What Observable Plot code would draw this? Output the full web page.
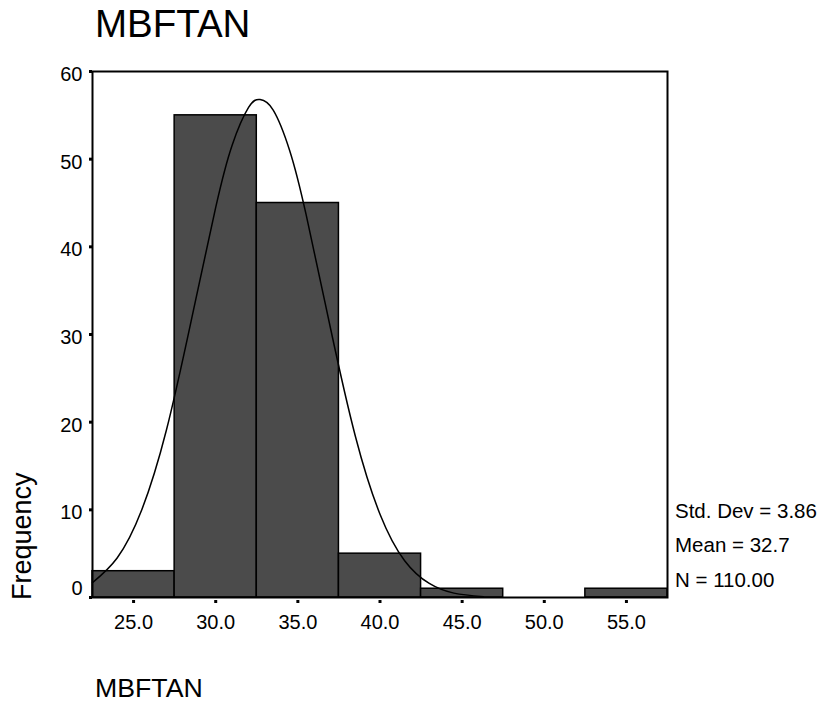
<!DOCTYPE html>
<html>
<head>
<meta charset="utf-8">
<script src="https://cdn.jsdelivr.net/npm/d3@7"></script>
<script src="https://cdn.jsdelivr.net/npm/@observablehq/plot@0.6"></script>
<style>
  html, body { margin: 0; padding: 0; background: #fff; }
  #wrap { position: relative; width: 821px; height: 703px; font-family: "Liberation Sans", Arial, sans-serif; color: #000; }
  #wrap svg { position: absolute; left: 0; top: 0; }
  .t { position: absolute; white-space: nowrap; line-height: 1; }
</style>
</head>
<body>
<div id="wrap">
  <div class="t" id="title" style="left:95px; top:5px; font-size:38.5px;">MBFTAN</div>
  <div class="t" id="xlab" style="left:95px; top:674.5px; font-size:26.7px;">MBFTAN</div>
  <div class="t" id="ylab" style="left:9px; top:600px; font-size:27px; transform-origin:0 0; transform:rotate(-90deg);">Frequency</div>
  <div class="t" id="s1" style="left:675px; top:501px; font-size:20.5px;"></div>
  <div class="t" id="s2" style="left:675px; top:535px; font-size:20.5px;"></div>
  <div class="t" id="s3" style="left:675px; top:570px; font-size:20.5px;"></div>
</div>
<script>
// Histogram bins (MBFTAN)
const binStart = [22.5, 27.5, 32.5, 37.5, 42.5, 47.5, 52.5];
const binEnd   = [27.5, 32.5, 37.5, 42.5, 47.5, 52.5, 57.5];
const frequency = [3, 55, 45, 5, 1, 0, 1];

// Fitted normal curve
const curveX = [22.5, 24, 25.5, 27, 28.5, 30, 31, 32, 32.7, 33.5, 34.5, 35.5, 37, 38.5, 40, 41.5, 43, 44.5, 46.3];
const curveY = [1.7, 4.5, 10.0, 19.1, 31.5, 44.5, 51.6, 55.9, 56.8, 55.6, 51.0, 43.7, 30.6, 18.4, 9.5, 4.2, 1.6, 0.5, 0.1];

// Axis ticks
const xTicks = [25, 30, 35, 40, 45, 50, 55];
const yTicks = [0, 10, 20, 30, 40, 50, 60];

// Summary statistics
const statLabels = ["Std. Dev = 3.86", "Mean = 32.7", "N = 110.00"];

const bins = binStart.map((s, i) => ({x1: s, x2: binEnd[i], n: frequency[i]}));
const curve = curveX.map((x, i) => ({x, y: curveY[i]}));

const chart = Plot.plot({
  width: 821,
  height: 703,
  marginLeft: 92,
  marginRight: 154,
  marginTop: 71,
  marginBottom: 106,
  x: {domain: [22.5, 57.5]},
  y: {domain: [0, 60]},
  style: {fontFamily: "'Liberation Sans', Arial, sans-serif", fontSize: "20px", color: "#000", background: "transparent"},
  marks: [
    Plot.rect(bins, {x1: "x1", x2: "x2", y1: 0, y2: "n", fill: "#4b4b4b", stroke: "#000", strokeWidth: 1.5}),
    Plot.line(curve, {x: "x", y: "y", curve: "natural", stroke: "#000", strokeWidth: 1.5}),
    Plot.frame({stroke: "#000", strokeWidth: 2}),
    // y ticks (small squares)
    Plot.axisY(yTicks, {tickSize: 3, strokeWidth: 3, fill: "none", label: null}),
    // y labels
    Plot.axisY(yTicks.filter(d => d !== 0), {tickSize: 0, tickPadding: 10, dy: 3, label: null, fill: "#000"}),
    Plot.axisY(yTicks.filter(d => d === 0), {tickSize: 0, tickPadding: 10, dy: -9, label: null, fill: "#000"}),
    // x ticks (small squares, offset below axis)
    Plot.axisX(xTicks, {tickSize: 3, strokeWidth: 3, dy: 3, fill: "none", label: null}),
    // x labels
    Plot.axisX(xTicks, {tickSize: 0, tickPadding: 17, tickFormat: d => d.toFixed(1), label: null, fill: "#000"})
  ]
});

document.getElementById("wrap").prepend(chart);
document.getElementById("s1").textContent = statLabels[0];
document.getElementById("s2").textContent = statLabels[1];
document.getElementById("s3").textContent = statLabels[2];
</script>
</body>
</html>
